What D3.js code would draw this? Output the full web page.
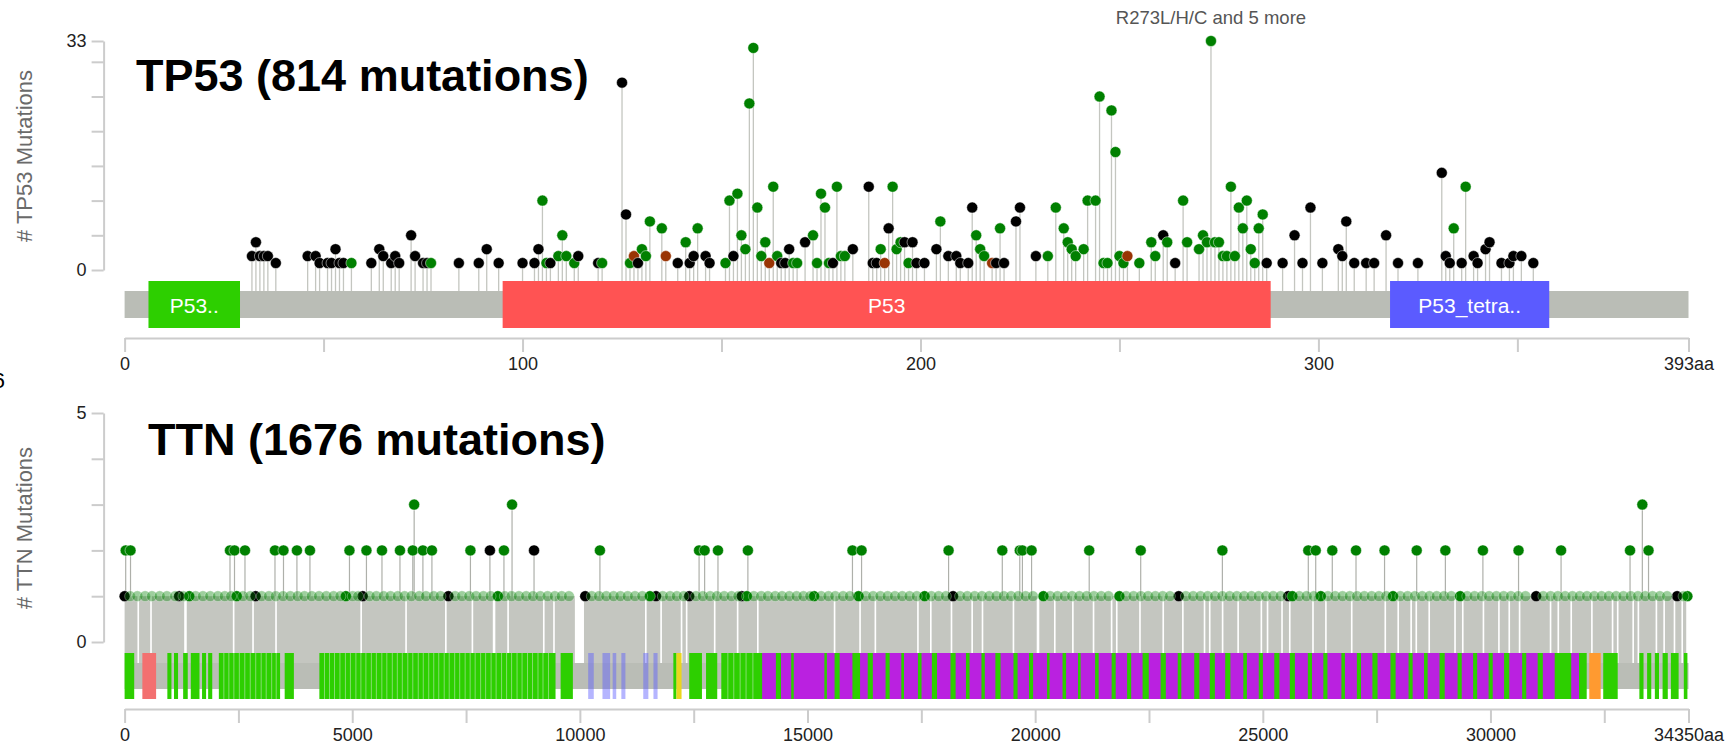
<!DOCTYPE html>
<html><head><meta charset="utf-8">
<script src="https://cdn.jsdelivr.net/npm/d3@7"></script>
<style>
body{margin:0;background:#fff;overflow:hidden;}
text{font-family:"Liberation Sans",Arial,Helvetica,sans-serif;}
</style></head><body>
<svg id="c" width="1727" height="747"></svg>
<script>
// ---------------- TP53 data ----------------
const tp53Length = 393;
const tp53Title = "TP53 (814 mutations)";
const tp53YLabel = "# TP53 Mutations";
const tp53YTicks = [0, 5, 10, 15, 20, 25, 30, 33];
const tp53YTickLabels = [0, 33];
const tp53XTicks = [0, 50, 100, 150, 200, 250, 300, 350, 393];
const tp53XTickLabels = [0, 100, 200, 300, 393];
const tp53Domains = [
  [6, 29, "P53..", "#2dcf00"],
  [95, 288, "P53", "#ff5353"],
  [318, 358, "P53_tetra..", "#5b5bff"]
];
const tp53Missense = [
  [57,1],[77,1],[105,10],[106,1],[109,2],[110,5],[111,2],[113,1],[120,1],[127,1],[130,3],[131,2],[132,7],[135,6],
  [141,4],[144,6],[151,1],[152,10],[154,11],[155,5],[156,3],[157,24],[158,32],[159,9],[160,2],[161,4],[163,12],
  [164,2],[168,1],[169,1],[173,5],[174,1],[175,11],[176,9],[177,1],[179,12],[180,2],[181,2],[190,3],[193,12],
  [194,3],[195,4],[197,1],[205,7],[214,5],[215,3],[216,2],[220,6],[232,2],[234,9],[236,6],[237,4],[238,3],[239,2],
  [241,3],[242,10],[244,10],[245,25],[246,1],[247,1],[248,23],[249,17],[250,2],[251,1],[255,1],[258,4],[259,2],
  [262,4],[266,10],[267,4],[270,3],[271,5],[272,4],[273,33],[274,4],[275,4],[276,2],[277,2],[278,12],[279,2],
  [280,9],[281,6],[282,10],[283,3],[284,1],[285,6],[286,8],[334,6],[337,12]
];
const tp53Truncating = [
  [32,2],[33,4],[34,2],[35,2],[36,2],[38,1],[46,2],[48,2],[49,1],[51,1],[52,1],[53,3],[54,1],[55,1],[62,1],[64,3],
  [65,2],[67,1],[68,2],[69,1],[72,5],[73,2],[75,1],[76,1],[84,1],[89,1],[91,3],[94,1],[100,1],[103,1],[104,3],
  [107,1],[114,2],[119,1],[125,27],[126,8],[129,1],[139,1],[142,1],[143,2],[146,2],[147,1],[153,2],[165,1],[166,1],
  [167,3],[171,4],[178,1],[183,3],[187,12],[188,1],[189,1],[192,6],[196,4],[198,4],[199,1],[201,1],[204,3],[207,2],
  [209,2],[210,1],[212,1],[213,9],[219,1],[221,1],[224,7],[225,9],[229,2],[261,5],[264,1],[287,1],[291,1],[294,5],
  [296,1],[298,9],[301,1],[305,3],[306,2],[307,7],[309,1],[312,1],[314,1],[317,5],[320,1],[325,1],[331,14],[332,2],
  [333,1],[336,1],[339,2],[340,1],[342,3],[343,4],[346,1],[348,1],[349,2],[351,2],[354,1]
];
const tp53Inframe = [[128,2],[136,2],[162,1],[191,1],[218,1],[252,2]];
const tp53Annotation = [273, "R273L/H/C and 5 more"];

// ---------------- TTN data ----------------
const ttnLength = 34350;
const ttnTitle = "TTN (1676 mutations)";
const ttnYLabel = "# TTN Mutations";
const ttnYTicks = [0, 1, 2, 3, 4, 5];
const ttnYTickLabels = [0, 5];
const ttnXTicks = [0,2500,5000,7500,10000,12500,15000,17500,20000,22500,25000,27500,30000,32500,34350];
const ttnXTickLabels = [0,5000,10000,15000,20000,25000,30000,34350];
const ttnIg = [[0,211],[939,1029],[1085,1174],[1286,1387],[1454,1645],[1701,1790],[1835,1925],[2070,3415],
  [3516,3718],[4278,9465],[9577,9846],[12053,12121],[12401,12681],[12771,13017],[13106,32114],[32477,32795],
  [33271,33362],[33441,33532],[33611,33702],[33781,33895],[33963,34133],[34247,34326]];
// thin light seams between adjacent Ig domains inside the dense green runs
const ttnIgSeams = [2180,2290,2400,2520,2640,2760,2880,3000,3110,3230,3330,4390,4500,4610,4730,4850,4960,5080,5190,
  5300,5420,5530,5650,5760,5880,5990,6100,6220,6330,6450,6560,6680,6790,6900,7020,7130,7250,7360,7480,7590,7700,
  7820,7930,8050,8160,8280,8390,8500,8620,8730,8850,8960,9080,9190,9310,13250,13380,13520,13650,13800];
const ttnRed = [[390,692]];
const ttnBlue = [[10182,10305],[10496,10664],[10720,10798],[10911,11000],[11392,11504],[11616,11706]];
const ttnYellow = [[12121,12233]];
const ttnOrange = [[32171,32421]];
const ttnFn3 = [[14003,14305],[14417,14641],[14697,15370],[15425,15594],[15706,15986],[16154,16322],[16434,16714],
  [16804,17060],[17119,17425],[17504,17731],[17845,18140],[18253,18480],[18559,18820],[18894,19126],[19240,19523],
  [19614,19864],[19955,20261],[20317,20601],[20680,20941],[20998,21316],[21395,21679],[21769,22019],[22109,22359],
  [22495,22756],[22870,23131],[23210,23494],[23607,23834],[23947,24174],[24288,24571],[24651,24911],[25002,25252],
  [25365,25592],[25705,25989],[26080,26329],[26420,26726],[26804,27066],[27157,27407],[27520,27804],[27917,28201],
  [28291,28541],[28620,28881],[28995,29278],[29369,29619],[29709,29959],[30050,30299],[30413,30696],[30787,31037],
  [31150,31411],[31774,31945]];
// gaps (no mutated residues) within the dense run of single-mutation stems
const ttnStemGaps = [[282,318],[562,598],[1309,1365],[2377,2413],[2803,2839],[3308,3344],[5178,5214],[6164,6200],
  [7038,7074],[7621,7657],[8087,8143],[8405,8441],[9189,9225],[9413,9449],[9890,10090],[11430,11466],[11766,11802],
  [12215,12251],[12327,12363],[12943,12979],[13447,13483],[13890,13926],[15576,15612],[16136,16172],[16472,16508],
  [17407,17443],[17690,17726],[18144,18180],[18598,18634],[18825,18861],[19505,19541],[20034,20091],[20413,20449],
  [20810,20846],[21264,21300],[21661,21697],[21774,21810],[22284,22320],[22795,22831],[23226,23262],[23702,23738],
  [23816,23852],[24099,24135],[24440,24476],[24950,24986],[25086,25122],[25404,25440],[25574,25610],[26084,26120],
  [26368,26404],[26935,26971],[27672,27708],[27956,27992],[28240,28276],[28353,28389],[28637,28673],[29204,29240],
  [29374,29410],[29828,29864],[30168,30204],[30395,30431],[30622,30658],[31302,31338],[31472,31508],[31756,31792],
  [32210,32246],[32664,32700],[32777,32813],[33117,33153],[33231,33267],[33627,33663],[33797,33833],[34024,34060],
  [34194,34230]];
const ttnOnes = [120,280,450,600,770,930,1110,1290,1560,1720,1880,2050,2200,2340,2600,2760,3010,3170,3320,3480,
  3640,3800,3950,4110,4270,4430,4590,4740,5010,5130,5380,5530,5690,5840,6000,6150,6300,6470,6620,6790,6940,7260,
  7410,7570,7720,7880,8040,8350,8500,8660,8820,8970,9130,9290,9450,9600,9760,10260,10420,10580,10740,10890,11050,
  11210,11370,11820,11980,12130,12280,12550,12700,12860,13010,13170,13330,13480,13820,13980,14130,14290,14440,14600,
  14760,14910,15060,15300,15460,15610,15780,15930,16280,16440,16600,16760,16920,17080,17240,17400,17720,17880,18040,
  18350,18510,18670,18830,18990,19150,19310,19470,19630,19790,19950,20330,20490,20650,20810,20970,21130,21290,21450,
  21610,22000,22160,22320,22480,22640,22800,22960,23310,23470,23630,23790,23950,24110,24270,24430,24590,24750,24910,
  25070,25230,25390,25800,25960,26120,26430,26590,26750,26910,27070,27230,27390,27550,27710,28020,28180,28340,28500,
  28660,28820,28980,29140,29490,29650,29810,29970,30130,30290,30450,30610,30770,31160,31320,31480,31640,31800,31960,
  32120,32280,32440,32600,32760,32920,33080,33240,33400,33560,33720,33880,34240];
const ttnOnesTruncating = [0,1197,2877,5230,7112,10117,11672,12401,13555,18196,23153,25558,31003,34099];
const ttnOnesMissense = [1420,2463,4860,8199,11538,13667,15145,16120,17572,20181,21849,25649,26273,27860,29335,34326];
const ttnMissense = [[24,2],[130,2],[2315,2],[2414,2],[2644,2],[3303,2],[3490,2],[3785,2],[4071,2],[4939,2],[5312,2],
  [5653,2],[6048,2],[6330,2],[6360,3],[6552,2],[6750,2],[7596,2],[8332,2],[8510,3],[10440,2],[12618,2],[12740,2],
  [13033,2],[13690,2],[15987,2],[16187,2],[18098,2],[19278,2],[19662,2],[19720,2],[19921,2],[21187,2],[22318,2],
  [24112,2],[25999,2],[26162,2],[26526,2],[27047,2],[27674,2],[28380,2],[29010,2],[29834,2],[30617,2],[31551,2],
  [33066,2],[33336,3],[33472,2]];
const ttnTruncating = [[8024,2],[8993,2]];

// ---------------- colours ----------------
const COL = {missense:"#008000", truncating:"#000000", inframe:"#993404",
  backbone:"#babdb6", stem:"#c4c6c0", axis:"#cccccc", ig:"#2dcf00", red:"#f37070",
  blue:"#5b5bff", yellow:"#ebd61d", fn3:"#ba21e0", orange:"#ff9a30"};

const svg = d3.select("#c");

function drawAxes(g, x, y, o) {
  const ya = d3.axisLeft(y).tickValues(o.yTicks).tickSize(12).tickSizeOuter(0).tickPadding(5)
    .tickFormat(d => o.yLabels.includes(d) ? d : "");
  const yg = g.append("g").attr("transform", `translate(${o.axisX},0)`).call(ya);
  const xa = d3.axisBottom(x).tickValues(o.xTicks).tickSize(14).tickSizeOuter(0).tickPadding(5)
    .tickFormat(d => o.xLabels.includes(d) ? (d === o.len ? d + "aa" : d) : "");
  const xg = g.append("g").attr("transform", `translate(0,${o.xAxisY})`).call(xa);
  [yg, xg].forEach(a => {
    a.select(".domain").attr("stroke", COL.axis).attr("stroke-width", 2);
    a.selectAll(".tick line").attr("stroke", COL.axis).attr("stroke-width", 2);
    a.selectAll(".tick text").attr("fill", "#222").attr("font-size", 18)
      .attr("font-family", '"Liberation Sans",Arial,sans-serif');
  });
  g.append("text").attr("transform", `translate(${o.yLabelX},${o.yLabelY}) rotate(-90)`)
    .attr("text-anchor", "middle").attr("dominant-baseline", "central")
    .attr("font-size", 22).attr("fill", "#6a6a6a").text(o.yLabel);
  g.append("text").attr("x", o.titleX).attr("y", o.titleY).attr("font-size", 45)
    .attr("font-weight", "bold").attr("fill", "#000").text(o.title);
}

// ============ TP53 panel ============
{
  const g = svg.append("g");
  const x = d3.scaleLinear().domain([0, tp53Length]).range([124.6, 1688.5]);
  const y = d3.scaleLinear().domain([0, 33]).range([270, 41]);
  const bbTop = 291, bbBot = 318, dTop = 281, dBot = 328;
  drawAxes(g, x, y, {yTicks: tp53YTicks, yLabels: tp53YTickLabels, xTicks: tp53XTicks, xLabels: tp53XTickLabels,
    len: tp53Length, axisX: 103.6, xAxisY: 338, yLabel: tp53YLabel, yLabelX: 24, yLabelY: 156,
    title: tp53Title, titleX: 136, titleY: 91});
  const muts = [
    ...tp53Missense.map(d => ({p: d[0], c: d[1], col: COL.missense})),
    ...tp53Truncating.map(d => ({p: d[0], c: d[1], col: COL.truncating})),
    ...tp53Inframe.map(d => ({p: d[0], c: d[1], col: COL.inframe}))
  ].sort((a, b) => a.p - b.p);
  g.append("g").selectAll("line").data(muts).join("line")
    .attr("x1", d => x(d.p)).attr("x2", d => x(d.p)).attr("y1", d => y(d.c)).attr("y2", bbTop + 2)
    .attr("stroke", COL.stem).attr("stroke-width", 1.3);
  g.append("rect").attr("x", x(0)).attr("width", x(tp53Length) - x(0)).attr("y", bbTop).attr("height", bbBot - bbTop)
    .attr("fill", COL.backbone);
  const dg = g.append("g").selectAll("g").data(tp53Domains).join("g");
  dg.append("rect").attr("x", d => x(d[0])).attr("width", d => x(d[1]) - x(d[0])).attr("y", dTop)
    .attr("height", dBot - dTop).attr("fill", d => d[3]);
  dg.append("text").attr("x", d => (x(d[0]) + x(d[1])) / 2).attr("y", (dTop + dBot) / 2 + 1)
    .attr("text-anchor", "middle").attr("dominant-baseline", "central").attr("fill", "#fff")
    .attr("font-size", 21).text(d => d[2]);
  g.append("g").selectAll("circle").data(muts).join("circle")
    .attr("cx", d => x(d.p)).attr("cy", d => y(d.c)).attr("r", 5.5)
    .attr("fill", d => d.col).attr("stroke", "#fff").attr("stroke-width", 0.6).attr("stroke-opacity", 0.8);
  g.append("text").attr("x", x(tp53Annotation[0])).attr("y", 24).attr("text-anchor", "middle")
    .attr("font-size", 18.5).attr("fill", "#555").text(tp53Annotation[1]);
}

// ============ TTN panel ============
{
  const g = svg.append("g");
  const x = d3.scaleLinear().domain([0, ttnLength]).range([124.6, 1688.5]);
  const y = d3.scaleLinear().domain([0, 5]).range([642, 413]);
  const bbTop = 663, bbBot = 689, dTop = 653, dBot = 699;
  drawAxes(g, x, y, {yTicks: ttnYTicks, yLabels: ttnYTickLabels, xTicks: ttnXTicks, xLabels: ttnXTickLabels,
    len: ttnLength, axisX: 103.6, xAxisY: 709, yLabel: ttnYLabel, yLabelX: 24, yLabelY: 528,
    title: ttnTitle, titleX: 148, titleY: 455});
  // dense single-mutation stems: runs between gaps
  const runs = [];
  let start = 0;
  ttnStemGaps.forEach(gp => { runs.push([start, gp[0]]); start = gp[1]; });
  runs.push([start, 34300]);
  g.append("g").selectAll("rect").data(runs).join("rect")
    .attr("x", d => x(d[0])).attr("width", d => x(d[1]) - x(d[0]))
    .attr("y", y(1)).attr("height", bbTop - y(1)).attr("fill", COL.stem);
  const multi = [
    ...ttnMissense.map(d => ({p: d[0], c: d[1], col: COL.missense})),
    ...ttnTruncating.map(d => ({p: d[0], c: d[1], col: COL.truncating}))
  ];
  g.append("g").selectAll("line").data(multi).join("line")
    .attr("x1", d => x(d.p)).attr("x2", d => x(d.p)).attr("y1", d => y(d.c)).attr("y2", y(1))
    .attr("stroke", "#aeb0aa").attr("stroke-width", 1.2);
  g.append("rect").attr("x", x(0)).attr("width", x(ttnLength) - x(0)).attr("y", bbTop).attr("height", bbBot - bbTop)
    .attr("fill", COL.backbone);
  const dom = (arr, col, op) => g.append("g").selectAll("rect").data(arr).join("rect")
    .attr("x", d => x(d[0])).attr("width", d => Math.max(1, x(d[1]) - x(d[0]))).attr("y", dTop)
    .attr("height", dBot - dTop).attr("fill", col).attr("fill-opacity", op);
  dom(ttnIg, COL.ig, 1);
  g.append("g").selectAll("line").data(ttnIgSeams).join("line")
    .attr("x1", d => x(d)).attr("x2", d => x(d)).attr("y1", dTop).attr("y2", dBot)
    .attr("stroke", "#9be08a").attr("stroke-width", 0.8);
  dom(ttnRed, COL.red, 1);
  dom(ttnBlue, COL.blue, 0.45);
  dom(ttnYellow, COL.yellow, 1);
  dom(ttnFn3, COL.fn3, 1);
  dom(ttnOrange, COL.orange, 1);
  // single mutations
  const ones = [
    ...ttnOnesTruncating.map(p => ({p, col: COL.truncating, op: 1})),
    ...ttnOnesMissense.map(p => ({p, col: COL.missense, op: 1})),
    ...ttnOnes.map(p => ({p, col: COL.missense, op: 0.38}))
  ];
  g.append("g").selectAll("circle").data(ones).join("circle")
    .attr("cx", d => x(d.p)).attr("cy", y(1)).attr("r", 5.4)
    .attr("fill", d => d.col).attr("fill-opacity", d => d.op)
    .attr("stroke", "#fff").attr("stroke-width", 0.5).attr("stroke-opacity", 0.6);
  g.append("g").selectAll("circle").data(multi).join("circle")
    .attr("cx", d => x(d.p)).attr("cy", d => y(d.c)).attr("r", 5.5)
    .attr("fill", d => d.col).attr("stroke", "#fff").attr("stroke-width", 0.6).attr("stroke-opacity", 0.8);
}
// cut-off panel letter at the left edge
svg.append("text").attr("x", 5).attr("y", 388).attr("text-anchor", "end").attr("font-size", 22)
  .attr("fill", "#000").text("6");
</script>
</body></html>
